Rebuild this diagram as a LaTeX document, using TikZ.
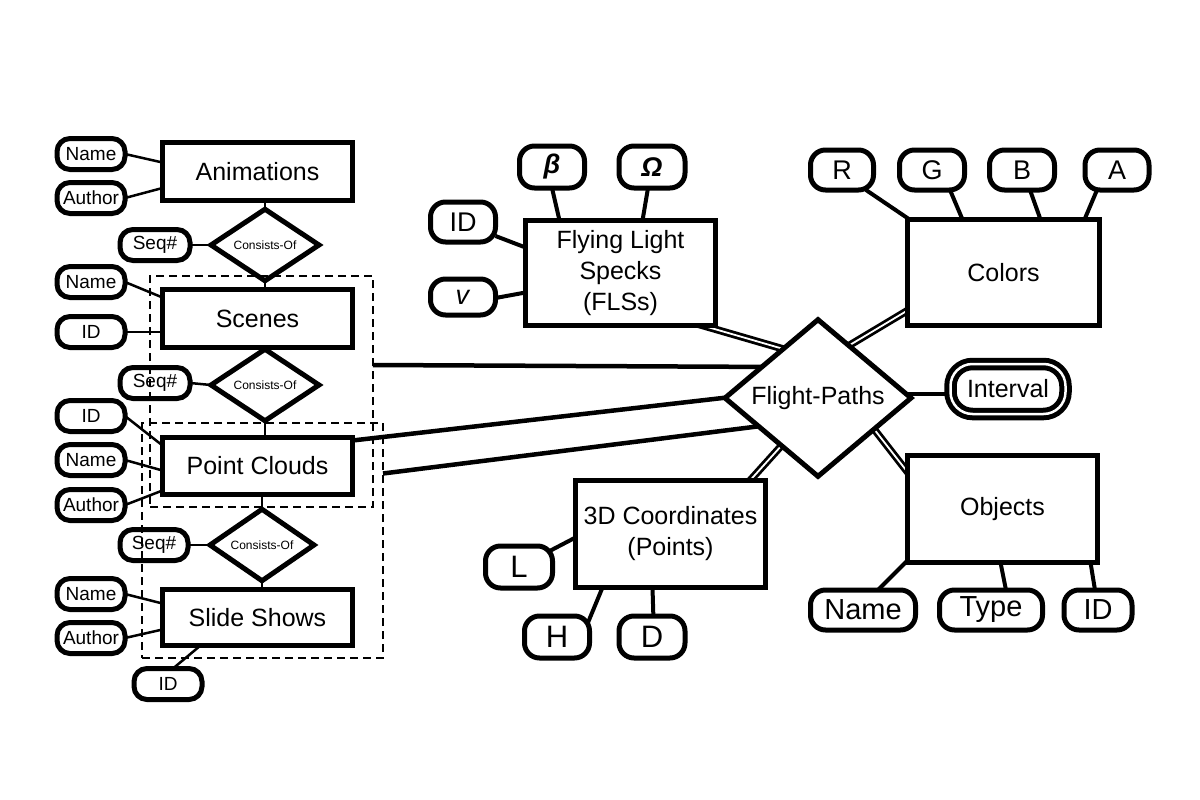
\documentclass[tikz,border=0pt]{standalone}
\usepackage{fontspec}
\setmainfont{Liberation Sans}
\usetikzlibrary{shapes.geometric,calc,backgrounds}
\begin{document}
\begin{tikzpicture}[x=1pt,y=-1pt,
  ent/.style={draw, fill=white, line width=5pt, rectangle, inner sep=0pt, outer sep=0pt,
    minimum width=190pt, font=\fontsize{25}{31}\selectfont, align=center},
  attrS/.style={draw, fill=white, line width=5pt, rounded corners=13pt, inner sep=0pt, outer sep=0pt,
    minimum width=68pt, minimum height=31pt, font=\fontsize{19}{22}\selectfont},
  attrL/.style={draw, fill=white, line width=5pt, rounded corners=15pt, inner sep=0pt, outer sep=0pt,
    minimum width=64pt, minimum height=40pt, font=\fontsize{27}{30}\selectfont},
  rel/.style={draw, fill=white, diamond, line width=5pt, inner sep=0pt, outer sep=0pt},
  conn/.style={line width=2.5pt},
  link/.style={line width=4pt},
  longlink/.style={line width=4.5pt},
  tot/.style={draw=black, double=white, double distance=1.8pt, line width=2.8pt},
  grp/.style={draw, dash pattern=on 8pt off 5pt, line width=2pt, inner sep=0pt, outer sep=0pt}]
\useasboundingbox (0,0) rectangle (1200,800);

% ---------- left column ----------
\node[ent, minimum height=58pt] (anim) at (257.5,171.5) {Animations};
\node[attrS] (nameA) at (91,154) {Name};
\node[attrS] (authA) at (91,198) {Author};
\node[rel, minimum width=108pt, minimum height=51pt, font=\fontsize{12}{14}\selectfont] (con1) at (265,245) {Consists-Of};
\node[attrS, minimum width=70pt] (seq1) at (155,245) {Seq\#};

\node[ent, minimum height=58pt] (scenes) at (257.5,318.5) {Scenes};
\node[attrS] (name2) at (91,282) {Name};
\node[attrS] (id2) at (91,332) {ID};
\node[rel, minimum width=108pt, minimum height=51pt, font=\fontsize{12}{14}\selectfont] (con2) at (265,385) {Consists-Of};
\node[attrS, minimum width=70pt] (seq2) at (155,383) {Seq\#};

\node[ent, minimum height=57pt] (pc) at (257.5,466) {Point Clouds};
\node[attrS] (id3) at (91,416) {ID};
\node[attrS] (name3) at (91,460) {Name};
\node[attrS] (auth3) at (91,505) {Author};
\node[rel, minimum width=104pt, minimum height=50pt, font=\fontsize{12}{14}\selectfont] (con3) at (262,545) {Consists-Of};
\node[attrS, minimum width=68pt] (seq3) at (154,545) {Seq\#};

\node[ent, minimum height=56pt] (ss) at (257.5,617.5) {Slide Shows};
\node[attrS] (name4) at (91,594) {Name};
\node[attrS] (auth4) at (91,638) {Author};
\node[attrS] (id5) at (168,684) {ID};

% ---------- right part ----------
\node[ent, minimum height=105pt] (fls) at (620.5,273) {Flying Light\\Specks\\(FLSs)};
\node[attrL, minimum width=65pt, minimum height=42pt] (beta) at (552,167) {\textbf{\textit{β}}};
\node[attrL, minimum width=66pt, minimum height=42pt] (omega) at (652,167) {\textbf{\textit{Ω}}};
\node[attrL, minimum width=65pt, minimum height=40pt] (idF) at (463,222) {ID};
\node[attrL, minimum width=65pt, minimum height=36pt] (vF) at (463,297) {\textit{v}};

\node[ent, minimum width=192pt, minimum height=106pt] (colors) at (1003.5,272.5) {Colors};
\node[attrL, minimum width=63pt] (cR) at (842,170) {R};
\node[attrL, minimum width=65pt] (cG) at (932,170) {G};
\node[attrL, minimum width=65pt] (cB) at (1022,170) {B};
\node[attrL, minimum width=64pt] (cA) at (1117,170) {A};

\node[rel, minimum width=186pt, minimum height=148pt, font=\fontsize{25}{31}\selectfont] (fp) at (818,398) {Flight-Paths};
\node[draw, fill=white, double=white, double distance=2.5pt, line width=5pt, rounded corners=22pt,
  inner sep=0pt, outer sep=0pt, minimum width=115pt, minimum height=50pt,
  font=\fontsize{25}{30}\selectfont] (interval) at (1008,389) {Interval};

\node[ent, minimum height=107pt] (obj) at (1002.5,509) {Objects};
\node[attrL, minimum width=105pt, minimum height=40pt, font=\fontsize{29}{32}\selectfont] (oname) at (863,610) {Name};
\node[attrL, minimum width=103pt, minimum height=40pt, font=\fontsize{29}{32}\selectfont] (otype) at (991,610) {Type};
\node[attrL, minimum width=68pt, minimum height=40pt, font=\fontsize{29}{32}\selectfont] (oid) at (1098,610) {ID};

\node[ent, minimum height=107pt] (coord) at (670.5,534) {3D Coordinates\\(Points)};
\node[attrL, minimum width=67pt, minimum height=42pt, font=\fontsize{31}{34}\selectfont] (cL) at (519,567) {L};
\node[attrL, minimum width=65pt, minimum height=42pt, font=\fontsize{31}{34}\selectfont] (cH) at (557,637) {H};
\node[attrL, minimum width=66pt, minimum height=42pt, font=\fontsize{31}{34}\selectfont] (cD) at (652,637) {D};

% ---------- groups (dashed) ----------
\node[grp, minimum width=223pt, minimum height=231pt] (grp1) at (261.5,391.5) {};
\node[grp, minimum width=241pt, minimum height=235pt] (grp2) at (262.5,540.5) {};

% ---------- connectors ----------
\begin{scope}[on background layer]
  % left column
  \draw[conn] (nameA.east) -- ([yshift=9pt]anim.west);
  \draw[conn] (authA.east) -- ([yshift=-16.5pt]anim.west);
  \draw[conn] (con1 |- anim.south) -- (con1 |- scenes.north);
  \draw[conn] (seq1.east) -- (con1.west);
  \draw[conn] (name2.east) -- ($(scenes.north west)+(0,8)$);
  \draw[conn] (id2.east) -- (id2.east -| scenes.west);
  \draw[conn] (con2 |- scenes.south) -- (con2 |- pc.north);
  \draw[conn] (seq2.east) -- (con2.west);
  \draw[conn] (id3.east) -- ($(pc.north west)+(0,8)$);
  \draw[conn] (name3.east) -- ($(pc.north west)+(0,33)$);
  \draw[conn] (auth3.east) -- ($(pc.south west)+(0,-4)$);
  \draw[conn] (con3 |- pc.south) -- (con3 |- ss.north);
  \draw[conn] (seq3.east) -- (con3.west);
  \draw[conn] (name4.east) -- ($(ss.north west)+(0,14)$);
  \draw[conn] (auth4.east) -- ($(ss.north west)+(0,40)$);
  \draw[conn] ([xshift=5pt]id5.north) -- ($(ss.south west)+(38,0)$);
  % long links to Flight-Paths
  \draw[longlink] ($(grp1.north east)+(0,89)$) -- ($(fp.west)+(55,-31)$);
  \draw[longlink] ($(pc.north east)+(0,3)$) -- ($(fp.west)+(15,-2)$);
  \draw[longlink] ($(grp2.north east)+(0,50.5)$) -- ($(fp.west)+(52,26)$);
  % FLS attributes
  \draw[link] (beta.south) -- ($(fls.north west)+(34,0)$);
  \draw[link] ([xshift=-4pt]omega.south) -- ($(fls.north west)+(117,0)$);
  \draw[link] ([yshift=-14pt]idF.east) -- ($(fls.north west)+(0,27)$);
  \draw[link] ([yshift=-1pt]vF.east) -- ($(fls.north west)+(0,72)$);
  % Colors attributes
  \draw[link] ([xshift=24pt]cR.south) -- ($(colors.north west)+(5,2)$);
  \draw[link] ([xshift=18pt]cG.south) -- ($(colors.north west)+(55,0)$);
  \draw[link] ([xshift=8pt]cB.south) -- ($(colors.north west)+(133,0)$);
  \draw[link] ([xshift=-20pt]cA.south) -- ($(colors.north west)+(177,0)$);
  % Objects attributes
  \draw[link] ([xshift=15pt]oname.north) -- ($(obj.south west)+(0,-2)$);
  \draw[link] ([xshift=15pt]otype.north) -- ($(obj.south west)+(93,0)$);
  \draw[link] ([xshift=-3pt]oid.north) -- ($(obj.south west)+(183,0)$);
  % 3D coordinates attributes
  \draw[link] (cL.center) -- ($(coord.north west)+(0,57)$);
  \draw[link] ([xshift=25pt]cH.center) -- ($(coord.south west)+(27,0)$);
  \draw[link] ([xshift=2pt]cD.center) -- ($(coord.south west)+(77,0)$);
  % Interval
  \draw[link] ($(fp.east)+(-10,-4)$) -- ($(interval.west)+(10,5)$);
  % total participation (double lines)
  \draw[tot] ($(fls.south east)+(-20,-2)$) -- ($(fp.west)!0.63!(fp.north)+(9,3)$);
  \draw[tot] ($(colors.south west)+(10,-21)$) -- ($(fp.north)!0.33!(fp.east)+(-8,5)$);
  \draw[tot] ($(coord.north east)+(-20,5)$) -- ($(fp.south)!0.39!(fp.west)+(5,-6)$);
  \draw[tot] ($(obj.north west)+(5,23)$) -- ($(fp.east)!0.4!(fp.south)+(-5,-7)$);
\end{scope}
\end{tikzpicture}
\end{document}
